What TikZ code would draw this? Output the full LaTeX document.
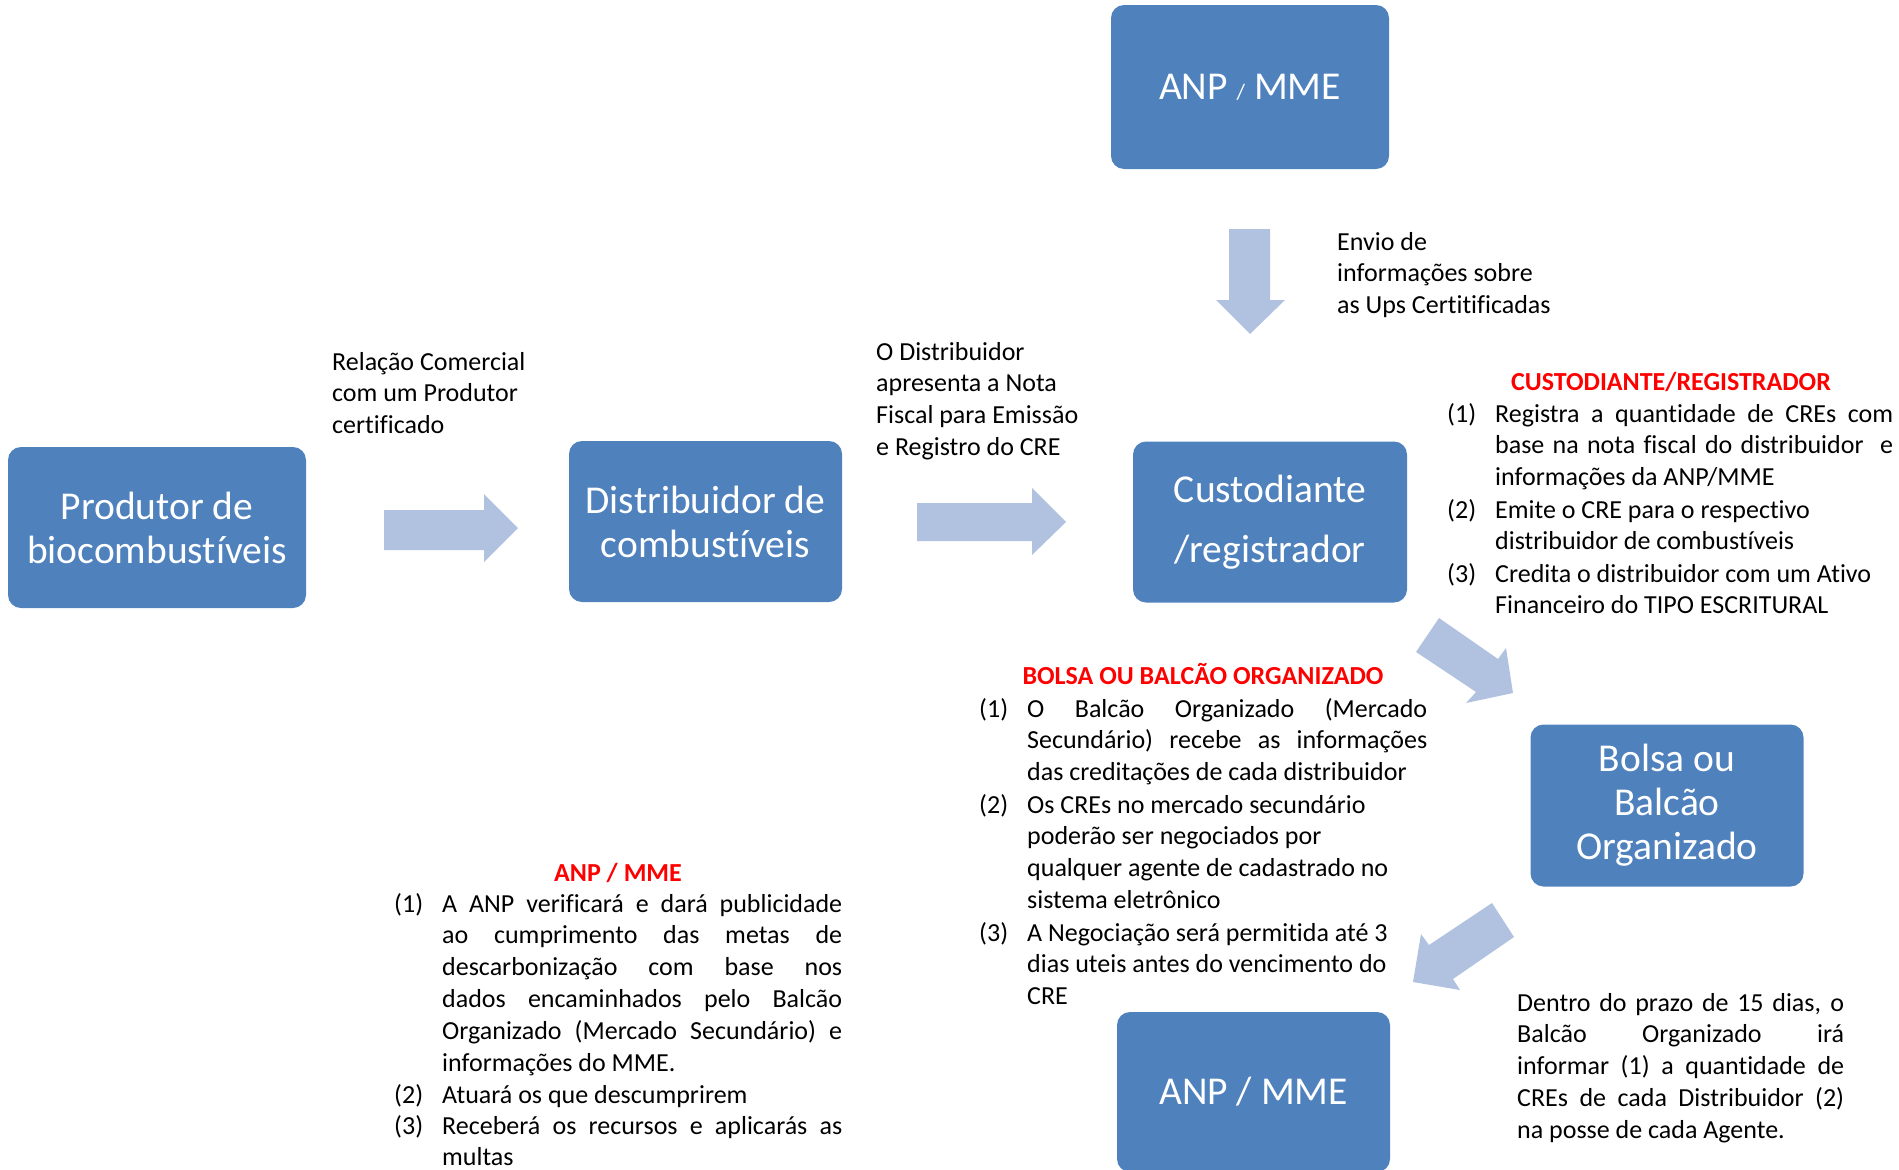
\documentclass[tikz,border=0pt]{standalone}
\usepackage{fontspec}
\setmainfont{Carlito}[Ligatures=CommonOff]
\definecolor{boxblue}{HTML}{4F81BD}
\definecolor{arrowblue}{HTML}{B0C2DF}
\definecolor{titlered}{HTML}{FF0000}
\newcommand\jl[1]{\makebox[\linewidth][s]{#1}}
\tikzset{
  bluebox/.style={rectangle, rounded corners=13pt, fill=boxblue, text=white, align=center,
    font=\fontsize{39.5}{44}\selectfont, inner sep=0pt},
  blockarrow/.style={fill=arrowblue},
  body/.style={font=\fontsize{26}{31.9}\selectfont, inner sep=0pt, anchor=base west},
  redtitle/.style={font=\fontsize{26}{31.9}\selectfont\bfseries, text=titlered, inner sep=0pt, anchor=base},
}
\begin{document}
\begin{tikzpicture}[x=1pt,y=-1pt]
\useasboundingbox (0,0) rectangle (1899,1170);
\clip (0,0) rectangle (1899,1170);

% boxes
\node[bluebox, minimum width=278pt, minimum height=164pt] (anp1) at (1250,87) {ANP {\fontsize{22}{22}\selectfont/} MME};
\node[bluebox, minimum width=298pt, minimum height=161pt] (prod) at (157,527.5) {Produtor de\\biocombustíveis};
\node[bluebox, minimum width=273pt, minimum height=161pt] (dist) at (705.5,521.5) {Distribuidor de\\combustíveis};
\node[bluebox, minimum width=274pt, minimum height=161pt, font=\fontsize{39.5}{60}\selectfont] (cust) at (1270,522) {Custodiante\\/registrador};
\node[bluebox, minimum width=273pt, minimum height=162pt] (bolsa) at (1667,805.5) {Bolsa ou\\Balcão\\Organizado};
\node[bluebox, minimum width=273pt, minimum height=160pt] (anp2) at (1253.5,1092) {ANP / MME};

% block arrows
\fill[blockarrow] (384,510) -- (484,510) -- (484,494) -- (518,528) -- (484,562) -- (484,550) -- (384,550) -- cycle;
\fill[blockarrow] (917,503) -- (1032,503) -- (1032,488) -- (1066,522) -- (1032,555) -- (1032,541) -- (917,541) -- cycle;
\fill[blockarrow] (1229,229) -- (1270,229) -- (1270,300) -- (1285,300) -- (1250,334) -- (1216,300) -- (1229,300) -- cycle;
\fill[blockarrow] (1439,618) -- (1498,659) -- (1506,648) -- (1513,693) -- (1466,703) -- (1476,692) -- (1416,652) -- cycle;
\fill[blockarrow] (1492,903) -- (1514,937) -- (1453,979) -- (1460,990) -- (1413,982) -- (1421,934) -- (1429,945) -- cycle;

% edge labels
\node[body] (lblrel) at (332,370) {\parbox[t]{250pt}{Relação Comercial\\com um Produtor\\certificado}};
\node[body] (lbldist) at (876,360) {\parbox[t]{250pt}{O Distribuidor\\apresenta a Nota\\Fiscal para Emissão\\e Registro do CRE}};
\node[body] (lblenv) at (1337,250) {\parbox[t]{250pt}{Envio de\\informações sobre\\as Ups Certitificadas}};

% custodiante notes
\node[redtitle] (tcust) at (1671,390) {CUSTODIANTE/REGISTRADOR};
\node[body] (c1n) at (1447,422) {(1)};
\node[body] (c1t) at (1495,422) {\parbox[t]{398pt}{\jl{Registra a quantidade de CREs com}\\\jl{base na nota fiscal do distribuidor\ \ e}\\informações da ANP/MME}};
\node[body] (c2n) at (1447,518) {(2)};
\node[body] (c2t) at (1495,518) {\parbox[t]{398pt}{Emite o CRE para o respectivo\\distribuidor de combustíveis}};
\node[body] (c3n) at (1447,582) {(3)};
\node[body] (c3t) at (1495,582) {\parbox[t]{398pt}{Credita o distribuidor com um Ativo\\Financeiro do TIPO ESCRITURAL}};

% bolsa notes
\node[redtitle] (tbolsa) at (1203,684) {BOLSA OU BALCÃO ORGANIZADO};
\node[body] (b1n) at (979,717) {(1)};
\node[body] (b1t) at (1027,717) {\parbox[t]{400pt}{\jl{O Balcão Organizado (Mercado}\\\jl{Secundário) recebe as informações}\\das creditações de cada distribuidor}};
\node[body] (b2n) at (979,813) {(2)};
\node[body] (b2t) at (1027,813) {\parbox[t]{400pt}{Os CREs no mercado secundário\\poderão ser negociados por\\qualquer agente de cadastrado no\\sistema eletrônico}};
\node[body] (b3n) at (979,941) {(3)};
\node[body] (b3t) at (1027,941) {\parbox[t]{400pt}{A Negociação será permitida até 3\\dias uteis antes do vencimento do\\CRE}};

% anp notes
\node[redtitle] (tanp) at (618,881) {ANP / MME};
\node[body] (a1n) at (394,912) {(1)};
\node[body] (a1t) at (442,912) {\parbox[t]{400pt}{\jl{A ANP verificará e dará publicidade}\\\jl{ao cumprimento das metas de}\\\jl{descarbonização com base nos}\\\jl{dados encaminhados pelo Balcão}\\\jl{Organizado (Mercado Secundário) e}\\informações do MME.}};
\node[body] (a2n) at (394,1103) {(2)};
\node[body] (a2t) at (442,1103) {Atuará os que descumprirem};
\node[body] (a3n) at (394,1134) {(3)};
\node[body] (a3t) at (442,1134) {\parbox[t]{400pt}{\jl{Receberá os recursos e aplicarás as}\\multas}};

% prazo note
\node[body] (prazo) at (1517,1011) {\parbox[t]{327pt}{\jl{Dentro do prazo de 15 dias, o}\\\jl{Balcão Organizado irá}\\\jl{informar (1) a quantidade de}\\\jl{CREs de cada Distribuidor (2)}\\na posse de cada Agente.}};
\end{tikzpicture}
\end{document}
